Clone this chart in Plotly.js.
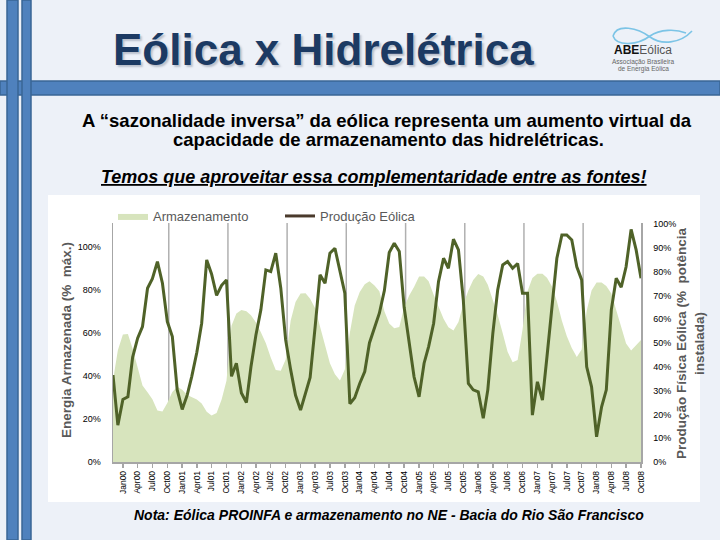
<!DOCTYPE html>
<html>
<head>
<meta charset="utf-8">
<script src="https://cdn.plot.ly/plotly-3.0.1.min.js"></script>
<style>html,body{margin:0;padding:0;background:#edf1f8;}#chart{width:720px;height:540px;}</style>
</head>
<body>
<div id="chart"></div>
<script>
// ---- Data (monthly, Nov 1999 .. Oct 2008) ----
const firstYear = 1999, firstMonth = 11, nMonths = 108;
const months = [];
for (let i = 0; i < nMonths; i++) {
  const m0 = (firstMonth - 1) + i;
  const y = firstYear + Math.floor(m0 / 12);
  const mo = (m0 % 12) + 1;
  months.push(y + '-' + String(mo).padStart(2, '0') + '-01');
}

// Energia armazenada (% máx.) - left axis
const armazenamento = [
  38, 51.9, 59.2, 59.5, 52.6, 43.6, 35.5, 32.4, 29.2, 23.9,
  23.4, 27.4, 32.5, 35, 33.5, 31.1, 30.2, 29, 27.2, 23.3,
  21.6, 22.7, 29, 37.7, 63.3, 69, 70.6, 70, 68.1, 64.8,
  60.3, 55.1, 48.5, 42.7, 42.4, 47.6, 65.7, 74.3, 78.3, 78.4,
  75.8, 71.4, 62.9, 54, 45.9, 40.7, 37.9, 43, 60, 72.7,
  79, 82.6, 83.9, 82, 79.3, 70, 64.3, 62.1, 62.7, 71.9,
  77.3, 81.3, 86.2, 86.2, 84, 77.7, 71.8, 66.5, 62.6, 61.1,
  65, 73.3, 79.6, 84.5, 87.3, 86.2, 82.3, 75.5, 68.3, 59.8,
  51.2, 46.3, 47.4, 61.4, 79.3, 85.5, 87.4, 87.4, 85.6, 81.5,
  74.6, 65.6, 58.5, 52.9, 48.8, 52.2, 70.2, 79.6, 83.4, 83.4,
  81.7, 78.3, 70.5, 62.4, 55, 51.8, 54.5, 56.7
];

// Produção física eólica (% potência instalada) - right axis
const producaoEolica = [
  36.5, 15.5, 26.3, 27.4, 44, 52, 56.9, 73, 77, 84.2,
  75.1, 59, 52.7, 30.3, 22.1, 28.2, 36, 46, 58.3, 84.9,
  79, 70, 74.2, 76.5, 36, 41.5, 29, 25, 40, 53.5,
  63.9, 80.7, 80, 87.7, 73, 51.3, 38.7, 28, 21.8, 29.2,
  35.5, 56.9, 78.6, 75.1, 87.7, 89.8, 80, 70.9, 24.5, 27,
  33, 38, 50, 56.2, 62.5, 72, 88, 91.9, 88.4, 65,
  49, 35.8, 27.4, 41.5, 48.5, 58.3, 75.8, 85.6, 81.4, 93.6,
  89.1, 68, 33, 30.3, 29.5, 18.4, 30.3, 54, 72.3, 82.8,
  84.2, 81.4, 83.4, 70.9, 70.9, 19.7, 33.7, 26, 44.2, 65.3,
  85.6, 95.4, 95.4, 93.3, 82, 76.5, 40, 31.6, 10.6, 23.2,
  30.3, 63.9, 77.2, 73.4, 82, 97.7, 89.1, 77.2
];

const seriesNames = ['Armazenamento', 'Produção Eólica'];
const gridYears = [2000, 2001, 2002, 2003, 2004, 2005, 2006, 2007];

// ---- helpers (pixel -> paper) ----
const W = 720, H = 540;
const px = x => x / W;
const py = y => 1 - y / H;

const FONT = 'Liberation Sans, Arial, sans-serif';
const areaColor = '#d7e4bd';
const lineColor = '#4f6228';

const traces = [
  {
    x: months, y: armazenamento, name: seriesNames[0], type: 'scatter', mode: 'lines',
    fill: 'tozeroy', fillcolor: areaColor, line: {width: 0, color: areaColor},
    yaxis: 'y', hoverinfo: 'skip'
  },
  {
    x: months, y: producaoEolica, name: seriesNames[1], type: 'scatter', mode: 'lines',
    line: {width: 3, color: lineColor}, yaxis: 'y2', showlegend: false, hoverinfo: 'skip'
  },
  {
    x: [null], y: [null], name: seriesNames[1], type: 'scatter', mode: 'lines',
    line: {width: 3, color: '#4a3a2c'}, yaxis: 'y2', hoverinfo: 'skip'
  }
];

const shapes = [];
// slide decoration: horizontal band
shapes.push({type: 'rect', xref: 'paper', yref: 'paper', x0: 0, x1: 1, y0: py(95), y1: py(81),
  fillcolor: '#4f81bd', line: {color: '#3a6595', width: 1.5}, layer: 'below'});
// vertical bars
shapes.push({type: 'rect', xref: 'paper', yref: 'paper', x0: px(7), x1: px(18), y0: 0, y1: 1,
  fillcolor: '#4f81bd', line: {color: '#3a6595', width: 1.5}, layer: 'below'});
shapes.push({type: 'rect', xref: 'paper', yref: 'paper', x0: px(22), x1: px(31), y0: 0, y1: 1,
  fillcolor: '#4f81bd', line: {color: '#3a6595', width: 1.5}, layer: 'below'});
// white chart box
shapes.push({type: 'rect', xref: 'paper', yref: 'paper', x0: px(48), x1: px(700), y0: py(502), y1: py(195),
  fillcolor: '#ffffff', line: {width: 0}, layer: 'below'});
// vertical gridlines
gridYears.forEach(y => {
  shapes.push({type: 'line', xref: 'x', yref: 'paper', x0: y + '-10-10', x1: y + '-10-10',
    y0: py(462), y1: py(223), line: {color: '#b0b0b0', width: 1.5}, layer: 'below'});
});
// logo swoosh
function pth(pts) {
  return pts.map(s => s.replace(/(-?\d+\.?\d*),(-?\d+\.?\d*)/g, (m, a, b) => px(+a).toFixed(5) + ',' + py(+b).toFixed(5))).join(' ');
}
shapes.push({type: 'path', xref: 'paper', yref: 'paper',
  path: pth(['M 613,36', 'C 617,23 638,28 650,37', 'C 661,45 680,44 692,31']),
  line: {color: '#7cc4e6', width: 1.6}});
shapes.push({type: 'path', xref: 'paper', yref: 'paper',
  path: pth(['M 613,36', 'C 617,47 638,45 650,36', 'C 660,29 676,29 686,33']),
  line: {color: '#7cc4e6', width: 1.6}});

function ann(text, x, y, size, color, extra) {
  return Object.assign({text: text, x: px(x), y: py(y), xref: 'paper', yref: 'paper',
    xanchor: 'center', yanchor: 'middle', showarrow: false, align: 'center',
    font: {family: FONT, size: size, color: color}}, extra || {});
}

const annotations = [
  // title (with soft shadow)
  ann('<b>Eólica x Hidrelétrica</b>', 323, 50, 44, '#1c3a63'),
  // logo texts
  ann('<b>ABE</b><span style="color:#555">Eólica</span>', 643, 50, 12, '#111'),
  ann('Associação Brasileira', 643, 62, 6.5, '#666'),
  ann('de Energia Eólica', 643, 69, 6.5, '#666'),
  // subtitle
  ann('<b>A “sazonalidade inversa” da eólica representa um aumento virtual da</b>', 386.5, 120, 18.5, '#000'),
  ann('<b>capacidade de armazenamento das hidrelétricas.</b>', 388, 139, 18.5, '#000'),
  ann('<b><i><u>Temos que aproveitar essa complementaridade entre as fontes!</u></i></b>', 374, 177, 18, '#000'),
  // note
  ann('<b><i>Nota: Eólica PROINFA e armazenamento no NE - Bacia do Rio São Francisco</i></b>', 388.5, 515, 14, '#000'),
  // axis titles
  ann('<b>Energia Armazenada (%  máx.)</b>', 66, 340, 13.5, '#595959', {textangle: -90}),
  ann('<b>Produção Física Eólica (%  potência<br>instalada)</b>', 690, 343, 13.5, '#595959', {textangle: -90})
];
annotations[0].font.shadow = '2px 2px 2px rgba(90,100,120,0.35)';

const layout = {
  width: W, height: H,
  margin: {l: 0, r: 0, t: 0, b: 0, pad: 0},
  paper_bgcolor: '#edf1f8',
  plot_bgcolor: 'rgba(0,0,0,0)',
  font: {family: FONT},
  showlegend: true,
  legend: {orientation: 'h', x: px(113), xanchor: 'left', y: py(216), yanchor: 'middle',
    font: {family: FONT, size: 13, color: '#595959'}, bgcolor: 'rgba(0,0,0,0)',
    entrywidth: 122, entrywidthmode: 'pixels', traceorder: 'normal'},
  xaxis: {
    type: 'date', domain: [px(113), px(641)], range: [months[0], months[months.length - 1]],
    tick0: '2000-01-01', dtick: 'M3', tickformat: '%b%y', tickangle: -90,
    ticks: 'outside', ticklen: 4, tickwidth: 1.5, tickcolor: '#a6a6a6',
    showline: true, linecolor: '#a6a6a6', linewidth: 1.5, showgrid: false, zeroline: false,
    tickfont: {family: FONT, size: 8.5, color: '#000'}, fixedrange: true
  },
  yaxis: {
    domain: [py(462), py(223)], range: [0, 111], dtick: 20, ticksuffix: '%',
    showline: true, linecolor: '#a6a6a6', linewidth: 1.5, showgrid: false, zeroline: false,
    ticks: 'outside', ticklen: 9, tickcolor: 'rgba(0,0,0,0)',
    tickfont: {family: FONT, size: 9, color: '#000'}, fixedrange: true
  },
  yaxis2: {
    overlaying: 'y', side: 'right', range: [0, 100.4], dtick: 10, ticksuffix: '%',
    showline: true, linecolor: '#a6a6a6', linewidth: 1.5, showgrid: false, zeroline: false,
    ticks: 'outside', ticklen: 9, tickcolor: 'rgba(0,0,0,0)',
    tickfont: {family: FONT, size: 9, color: '#000'}, fixedrange: true
  },
  shapes: shapes,
  annotations: annotations
};

Plotly.newPlot('chart', traces, layout, {staticPlot: true, displayModeBar: false});
</script>
</body>
</html>
